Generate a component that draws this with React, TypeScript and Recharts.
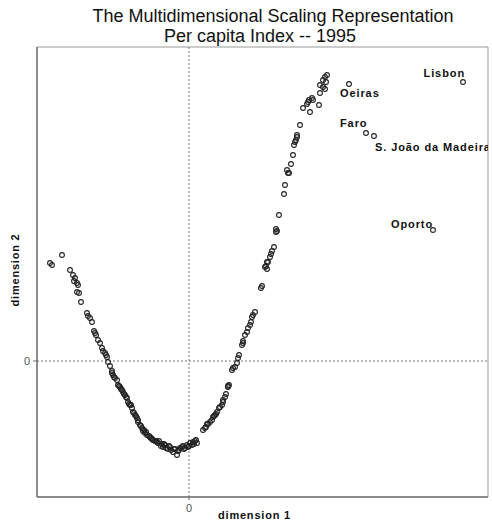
import React from "react";
import {
  ScatterChart,
  Scatter,
  XAxis,
  YAxis,
  ReferenceLine,
} from "recharts";

// municipalities along the MDS curve (dimension 1, dimension 2)
const dim1 = [
  -1.39, -1.37, -1.27, -1.19, -1.16, -1.14, -1.15, -1.12, -1.11, -1.12, -1.1, -1.08,
  -1.02, -1.01, -0.99, -0.97, -0.95, -0.94, -0.93, -0.91, -0.89, -0.87, -0.86, -0.84,
  -0.83, -0.82, -0.81, -0.79, -0.77, -0.77, -0.76, -0.74, -0.72, -0.71, -0.69, -0.68,
  -0.67, -0.66, -0.64, -0.63, -0.62, -0.61, -0.6, -0.59, -0.57, -0.56, -0.55, -0.54,
  -0.52, -0.51, -0.51, -0.49, -0.48, -0.47, -0.46, -0.44, -0.43, -0.42, -0.4, -0.39,
  -0.37, -0.36, -0.34, -0.32, -0.31, -0.3, -0.28, -0.27, -0.26, -0.24, -0.23, -0.21,
  -0.19, -0.18, -0.16, -0.14, -0.12, -0.1, -0.09, -0.07, -0.06, -0.04, -0.02, -0.01,
  0.01, 0.03, 0.04, 0.06, 0.07, 0.08,
  0.14, 0.16, 0.17, 0.19, 0.21, 0.23, 0.24, 0.26, 0.27, 0.28, 0.3, 0.31, 0.33, 0.34,
  0.34, 0.36, 0.37, 0.39, 0.4, 0.43, 0.44, 0.46, 0.48, 0.49, 0.5, 0.53, 0.54, 0.54,
  0.56, 0.58, 0.59, 0.61, 0.62, 0.63, 0.64, 0.66, 0.72, 0.73, 0.76, 0.78, 0.77, 0.78,
  0.79, 0.81, 0.82, 0.83, 0.85, 0.87, 0.87, 0.88, 0.9, 0.95, 0.96, 0.98, 0.99, 1.0,
  1.02, 1.04, 1.05, 1.06, 1.07, 1.08, 1.08, 1.11, 1.14, 1.18, 1.19, 1.2, 1.23, 1.24,
  1.21, 1.3, 1.31, 1.31, 1.34, 1.36, 1.34, 1.37, 1.36, 1.38,
  // denser clusters at the bottom of the curve
  -0.75, -0.7, -0.65, -0.58, -0.53, -0.45, -0.38, -0.33, -0.25, -0.2, -0.15, -0.11,
  -0.05, 0.0, 0.05, 0.39, 0.18, 0.25,
];
const dim2 = [
  0.98, 0.96, 1.06, 0.91, 0.86, 0.83, 0.8, 0.78, 0.76, 0.69, 0.68, 0.59,
  0.48, 0.45, 0.43, 0.39, 0.3, 0.28, 0.26, 0.21, 0.18, 0.13, 0.1, 0.08,
  0.06, 0.04, -0.01, -0.05, -0.1, -0.12, -0.14, -0.17, -0.19, -0.24, -0.26, -0.28,
  -0.29, -0.31, -0.34, -0.36, -0.37, -0.41, -0.43, -0.44, -0.47, -0.51, -0.52, -0.54,
  -0.57, -0.59, -0.61, -0.64, -0.65, -0.67, -0.7, -0.72, -0.71, -0.74, -0.75, -0.76,
  -0.78, -0.79, -0.8, -0.81, -0.82, -0.8, -0.85, -0.83, -0.86, -0.84, -0.87, -0.88,
  -0.86, -0.89, -0.91, -0.88, -0.94, -0.89, -0.87, -0.86, -0.85, -0.87, -0.84, -0.86,
  -0.82, -0.84, -0.81, -0.8, -0.79, -0.82,
  -0.69, -0.67, -0.66, -0.63, -0.61, -0.59, -0.56, -0.54, -0.53, -0.51, -0.47, -0.46, -0.44, -0.41,
  -0.39, -0.36, -0.33, -0.25, -0.24, -0.09, -0.07, -0.06, -0.02, 0.03, 0.06, 0.16, 0.18, 0.2,
  0.26, 0.29, 0.33, 0.36, 0.39, 0.44, 0.46, 0.49, 0.73, 0.75, 0.94, 0.92, 0.95, 0.99,
  0.99, 1.04, 1.07, 1.1, 1.14, 1.29, 1.32, 1.3, 1.46, 1.67, 1.76, 1.91, 1.88, 1.88,
  1.97, 2.06, 2.16, 2.19, 2.21, 2.24, 2.26, 2.36, 2.53, 2.57, 2.59, 2.61, 2.63, 2.61,
  2.49, 2.56, 2.68, 2.76, 2.74, 2.72, 2.81, 2.79, 2.84, 2.86,
  -0.16, -0.25, -0.33, -0.44, -0.55, -0.69, -0.77, -0.8, -0.83, -0.85, -0.88, -0.9,
  -0.88, -0.85, -0.83, -0.26, -0.63, -0.55,
];

const cityNames = ["Lisbon", "Oeiras", "Faro", "S. João da Madeira", "Oporto"];
const cityDim1 = [2.74, 1.6, 1.77, 1.85, 2.44];
const cityDim2 = [2.79, 2.77, 2.28, 2.25, 1.31];

const points = dim1.map((x, i) => ({ x, y: dim2[i] }));
const cities = cityNames.map((name, i) => ({ name, x: cityDim1[i], y: cityDim2[i] }));

// where each city label sits relative to its marker
const labelPlacement: Record<string, { dx: number; dy: number; anchor: string }> = {
  Lisbon: { dx: 2, dy: -5, anchor: "end" },
  Oeiras: { dx: -9, dy: 13, anchor: "start" },
  Faro: { dx: -26, dy: -6, anchor: "start" },
  "S. João da Madeira": { dx: 1, dy: 15, anchor: "start" },
  Oporto: { dx: 0, dy: -2, anchor: "end" },
};

const W = 492;
const H = 524;
const font = "'Liberation Sans', Arial, sans-serif";

const Marker = (props: any) => {
  const { cx, cy } = props;
  if (cx == null || cy == null) return null;
  return <circle cx={cx} cy={cy} r={2.4} fill="none" stroke="#222" strokeWidth={1.1} />;
};

const CityMarker = (props: any) => {
  const { cx, cy, payload } = props;
  if (cx == null || cy == null) return null;
  const p = labelPlacement[payload.name];
  return (
    <g>
      <circle cx={cx} cy={cy} r={2.4} fill="none" stroke="#222" strokeWidth={1.1} />
      <text
        x={cx + p.dx}
        y={cy + p.dy}
        textAnchor={p.anchor as any}
        fontSize={11}
        fontWeight="bold"
        fontFamily={font}
        letterSpacing={0.9}
        fill="#111"
      >
        {payload.name}
      </text>
    </g>
  );
};

const XTick = (props: any) => {
  const { x, y, payload } = props;
  return (
    <text x={x} y={y + 10} textAnchor="middle" fontSize={11} fontFamily={font} fill="#555">
      {payload.value}
    </text>
  );
};

const YTick = (props: any) => {
  const { x, y, payload } = props;
  return (
    <text x={x - 1} y={y + 4} textAnchor="end" fontSize={11} fontFamily={font} fill="#555">
      {payload.value}
    </text>
  );
};

export default function App() {
  return (
    <div style={{ position: "absolute", left: 0, top: 0, width: W, height: H, background: "#fff", fontFamily: font }}>
      <div style={{ position: "absolute", left: 0, top: 6, width: 546, textAlign: "center", fontSize: 18, lineHeight: "20px", color: "#111" }}>
        The Multidimensional Scaling Representation
      </div>
      <div style={{ position: "absolute", left: 0, top: 26, width: 520, textAlign: "center", fontSize: 18, lineHeight: "20px", color: "#111" }}>
        Per capita Index -- 1995
      </div>
      <div style={{ position: "absolute", left: 0, top: 0 }}>
        <ScatterChart width={W} height={H} margin={{ top: 47, right: 4, bottom: 7, left: 17 }}>
          <XAxis
            type="number"
            dataKey="x"
            domain={[-1.52, 2.99]}
            ticks={[0]}
            allowDataOverflow
            height={20}
            axisLine={{ stroke: "#666", strokeWidth: 1.5 }}
            tickLine={{ stroke: "#666" }}
            tickSize={3}
            tick={<XTick />}
          />
          <YAxis
            type="number"
            dataKey="y"
            domain={[-1.36, 3.14]}
            ticks={[0]}
            allowDataOverflow
            width={20}
            axisLine={{ stroke: "#666", strokeWidth: 1.5 }}
            tickLine={{ stroke: "#666" }}
            tickSize={4}
            tick={<YTick />}
          />
          <ReferenceLine y={3.14} stroke="#999" />
          <ReferenceLine x={2.99} stroke="#999" />
          <ReferenceLine x={0} stroke="#777" strokeDasharray="2 2" />
          <ReferenceLine y={0} stroke="#777" strokeDasharray="2 2" />
          <Scatter data={points} shape={Marker} isAnimationActive={false} />
          <Scatter data={cities} shape={CityMarker} isAnimationActive={false} />
        </ScatterChart>
      </div>
      <div style={{ position: "absolute", left: 218, top: 509, fontSize: 11, fontWeight: "bold", letterSpacing: 0.8, color: "#111" }}>
        dimension 1
      </div>
      <div
        style={{
          position: "absolute",
          left: 15,
          top: 270,
          fontSize: 11,
          fontWeight: "bold",
          letterSpacing: 0.8,
          color: "#111",
          whiteSpace: "nowrap",
          transform: "translate(-50%, -50%) rotate(-90deg)",
        }}
      >
        dimension 2
      </div>
    </div>
  );
}
